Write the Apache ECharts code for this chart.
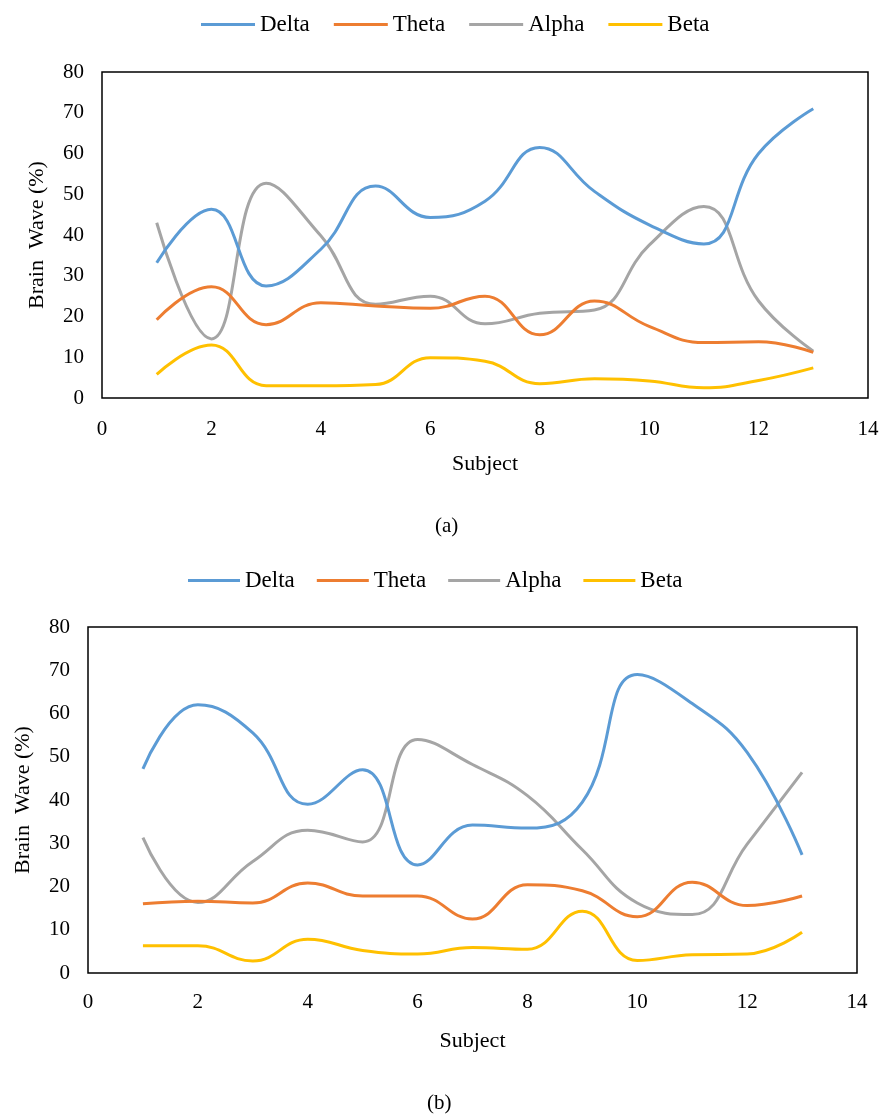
<!DOCTYPE html>
<html><head><meta charset="utf-8">
<script src="https://cdn.jsdelivr.net/npm/echarts@6/dist/echarts.min.js"></script>
<style>html,body{margin:0;padding:0;background:#fff}#c{width:885px;height:1118px}</style>
</head><body><div id="c"></div>
<script>
const subjects = [1,2,3,4,5,6,7,8,9,10,11,12,13];
const seriesNames = ['Delta','Theta','Alpha','Beta'];
const colors = ['#5B9BD5','#ED7D31','#A5A5A5','#FFC000'];
// Panel (a)
const deltaA = [33.2,46.3,27.5,36.5,52,44.3,48.3,61.5,50.7,42.5,37.8,60,71];
const thetaA = [19.2,27.3,18,23.4,22.6,22,25,15.5,23.8,17.6,13.6,13.8,11.2];
const alphaA = [43,14.5,52.7,39.8,23,25,18.2,20.8,21.6,37.5,47,23.8,11.5];
const betaA  = [5.8,13,3,3,3.3,9.9,9,3.5,4.7,4.2,2.5,4.3,7.4];
// Panel (b)
const deltaB = [47.2,62,55.5,39,47,25,34.2,33.5,39.5,69,62.3,51,27.3];
const thetaB = [16,16.6,16.2,20.8,17.8,17.8,12.5,20.4,19,13,21,15.6,17.8];
const alphaB = [31.3,16.3,25.8,33,30.3,54,48.2,41,28.5,16.2,13.5,29.8,46.4];
const betaB  = [6.3,6.3,2.8,7.8,5.2,4.4,5.9,5.5,14.3,2.9,4.2,4.4,9.4];
const xTicks = {min:0, max:14, interval:2};
const yTicks = {min:0, max:80, interval:10};

const font = 'Liberation Serif';
const dataA = [deltaA, thetaA, alphaA, betaA];
const dataB = [deltaB, thetaB, alphaB, betaB];

function mkSeries(data, idx){
  return seriesNames.map((n,i)=>({
    name:n, type:'line', xAxisIndex:idx, yAxisIndex:idx,
    data: subjects.map((s,k)=>[s, data[i][k]]),
    smooth:0.45, symbol:'none', lineStyle:{width:3, color:colors[i]}, itemStyle:{color:colors[i]},
    z: 10-i
  }));
}
function xAx(idx, margin, gap){
  return {type:'value', gridIndex:idx, min:xTicks.min, max:xTicks.max, interval:xTicks.interval,
    name:'Subject', nameLocation:'middle', nameGap:gap,
    nameTextStyle:{fontFamily:font, fontSize:22, color:'#000'},
    axisLine:{show:false}, axisTick:{show:false}, splitLine:{show:false},
    axisLabel:{fontFamily:font, fontSize:21, color:'#000', margin:margin}};
}
function yAx(idx){
  return {type:'value', gridIndex:idx, min:yTicks.min, max:yTicks.max, interval:yTicks.interval,
    name:'Brain  Wave (%)', nameLocation:'middle', nameGap:54, nameRotate:90,
    nameTextStyle:{fontFamily:font, fontSize:22, color:'#000'},
    axisLine:{show:false}, axisTick:{show:false}, splitLine:{show:false},
    axisLabel:{fontFamily:font, fontSize:21, color:'#000', margin:18}};
}
const chart = echarts.init(document.getElementById('c'), null, {renderer:'canvas'});
chart.setOption({
  animation:false,
  backgroundColor:'#fff',
  legend:[
    {data:seriesNames, top:8, left:196, itemWidth:54, itemHeight:3, itemGap:24,
     textStyle:{fontFamily:font, fontSize:23, color:'#000'}, icon:'rect'},
    {data:seriesNames, top:564, left:183, itemWidth:52, itemHeight:3, itemGap:22,
     textStyle:{fontFamily:font, fontSize:23, color:'#000'}, icon:'rect'}
  ],
  grid:[
    {left:102, right:17, top:72, height:326, show:true, borderColor:'#000', borderWidth:1.5, backgroundColor:'transparent'},
    {left:88, right:28, top:627, height:346, show:true, borderColor:'#000', borderWidth:1.5, backgroundColor:'transparent'}
  ],
  xAxis:[xAx(0, 21, 55), xAx(1, 19, 57)],
  yAxis:[yAx(0), yAx(1)],
  series:[...mkSeries(dataA,0), ...mkSeries(dataB,1)],
  graphic:[
    {type:'text', left:435, top:516, style:{text:'(a)', font:'21px "Liberation Serif"', fill:'#000'}},
    {type:'text', left:427, top:1093, style:{text:'(b)', font:'21px "Liberation Serif"', fill:'#000'}}
  ]
});
</script></body></html>
